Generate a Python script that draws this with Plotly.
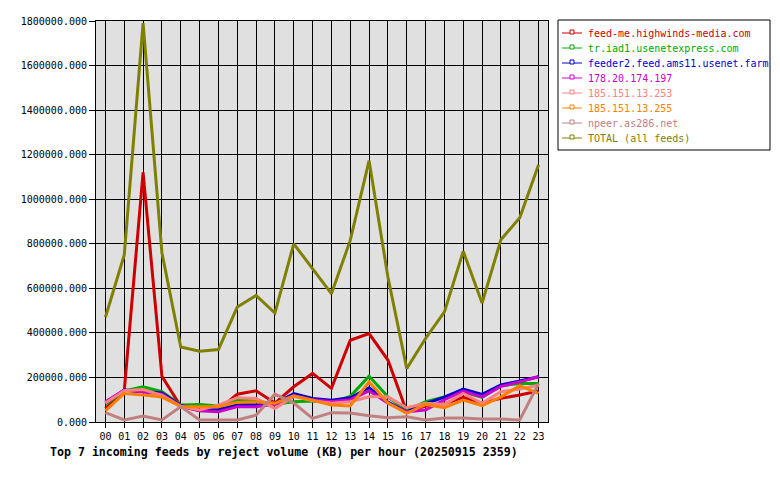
import plotly.graph_objects as go

hours = ["%02d" % h for h in range(24)]

series_names = [
    "feed-me.highwinds-media.com",
    "tr.iad1.usenetexpress.com",
    "feeder2.feed.ams11.usenet.farm",
    "178.20.174.197",
    "185.151.13.253",
    "185.151.13.255",
    "npeer.as286.net",
    "TOTAL (all feeds)",
]
series_colors = ["#cc0000", "#00aa00", "#0000cc", "#cc00cc", "#ff8080", "#ff8000", "#c08080", "#808000"]

feed_me = [60000, 140000, 1120000, 205000, 70000, 50000, 55000, 125000, 140000, 85000, 158000, 218000,
           151000, 367000, 397000, 278000, 46000, 72000, 82000, 111000, 85000, 106000, 121000, 139000]
tr_iad1 = [80000, 140000, 158000, 136000, 76000, 79000, 72000, 98000, 95000, 80000, 91000, 94000,
           88000, 115000, 206000, 113000, 50000, 91000, 113000, 135000, 110000, 163000, 173000, 173000]
feeder2 = [85000, 143000, 136000, 130000, 74000, 54000, 54000, 79000, 76000, 82000, 128000, 106000,
           98000, 109000, 154000, 90000, 45000, 82000, 112000, 148000, 124000, 166000, 184000, 203000]
ip_197 = [91000, 143000, 136000, 125000, 72000, 51000, 46000, 69000, 69000, 80000, 118000, 100000,
          92000, 100000, 140000, 85000, 46000, 54000, 100000, 139000, 113000, 160000, 180000, 203000]
ip_253 = [85000, 140000, 146000, 120000, 70000, 54000, 76000, 109000, 106000, 61000, 115000, 95000,
          84000, 91000, 113000, 113000, 64000, 84000, 79000, 128000, 84000, 136000, 148000, 165000]
ip_255 = [50000, 128000, 121000, 112000, 70000, 69000, 69000, 88000, 91000, 84000, 118000, 98000,
          76000, 72000, 180000, 85000, 39000, 79000, 64000, 98000, 73000, 113000, 163000, 128000]
npeer = [42000, 9000, 27000, 9000, 69000, 9000, 9000, 9000, 31000, 125000, 85000, 16000,
         42000, 40000, 28000, 19000, 24000, 9000, 18000, 18000, 13000, 13000, 9000, 173000]
total = [470000, 750000, 1790000, 760000, 337000, 318000, 325000, 516000, 568000, 489000, 800000, 688000,
         576000, 815000, 1173000, 651000, 240000, 375000, 494000, 766000, 534000, 818000, 917000, 1155000]

all_series = [feed_me, tr_iad1, feeder2, ip_197, ip_253, ip_255, npeer, total]

title_text = "Top 7 incoming feeds by reject volume (KB) per hour (20250915 2359)"

W, H = 780, 480
L, R, T, B = 96, 548, 21, 422  # plot area in pixels

def px(x):
    return (x - L) / (R - L)

def py(y):
    return (B - y) / (B - T)

FONT = "DejaVu Sans Mono"

fig = go.Figure()
for name, vals, col in zip(series_names, all_series, series_colors):
    fig.add_trace(go.Scatter(x=hours, y=vals, mode="lines", name=name,
                             line=dict(color=col, width=3), showlegend=False))

shapes = []
annotations = []
# legend box
shapes.append(dict(type="rect", xref="paper", yref="paper",
                   x0=px(558), x1=px(770), y0=py(150), y1=py(20),
                   line=dict(color="black", width=1), fillcolor="white", layer="above"))
for i, (name, col) in enumerate(zip(series_names, series_colors)):
    yy = 33 + 15 * i
    shapes.append(dict(type="line", xref="paper", yref="paper",
                       x0=px(562), x1=px(582), y0=py(yy), y1=py(yy),
                       line=dict(color=col, width=1), layer="above"))
    shapes.append(dict(type="rect", xref="paper", yref="paper",
                       x0=px(570), x1=px(574), y0=py(yy + 1), y1=py(yy - 3),
                       line=dict(color=col, width=1), fillcolor="white", layer="above"))
    annotations.append(dict(text=name, xref="paper", yref="paper",
                            x=px(586), y=py(yy), xanchor="left", yanchor="middle",
                            showarrow=False, font=dict(family=FONT, size=10, color=col)))

annotations.append(dict(text="<b>" + title_text + "</b>", xref="paper", yref="paper",
                        x=px(48), y=py(452), xanchor="left", yanchor="middle",
                        showarrow=False, font=dict(family=FONT, size=11.6, color="black")))

fig.update_layout(
    width=W, height=H,
    margin=dict(l=L, r=W - R, t=T, b=H - B, pad=0),
    paper_bgcolor="white", plot_bgcolor="#e0e0e0",
    font=dict(family=FONT, size=10, color="black"),
    shapes=shapes, annotations=annotations,
    showlegend=False,
)
fig.update_xaxes(type="category", range=[-0.5, 23.5], showgrid=True, gridcolor="black", gridwidth=1,
                 showline=True, linecolor="black", linewidth=1, mirror=True,
                 ticks="outside", ticklen=5, tickcolor="black", tickfont=dict(family=FONT, size=10),
                 zeroline=False)
fig.update_yaxes(range=[0, 1800000], dtick=200000, tick0=0, tickformat=".3f",
                 showgrid=True, gridcolor="black", gridwidth=1,
                 showline=True, linecolor="black", linewidth=1, mirror=True,
                 ticks="outside", ticklen=6, tickcolor="black", tickfont=dict(family=FONT, size=10),
                 zeroline=False)

fig.write_html("out.html", config={"displayModeBar": False})
